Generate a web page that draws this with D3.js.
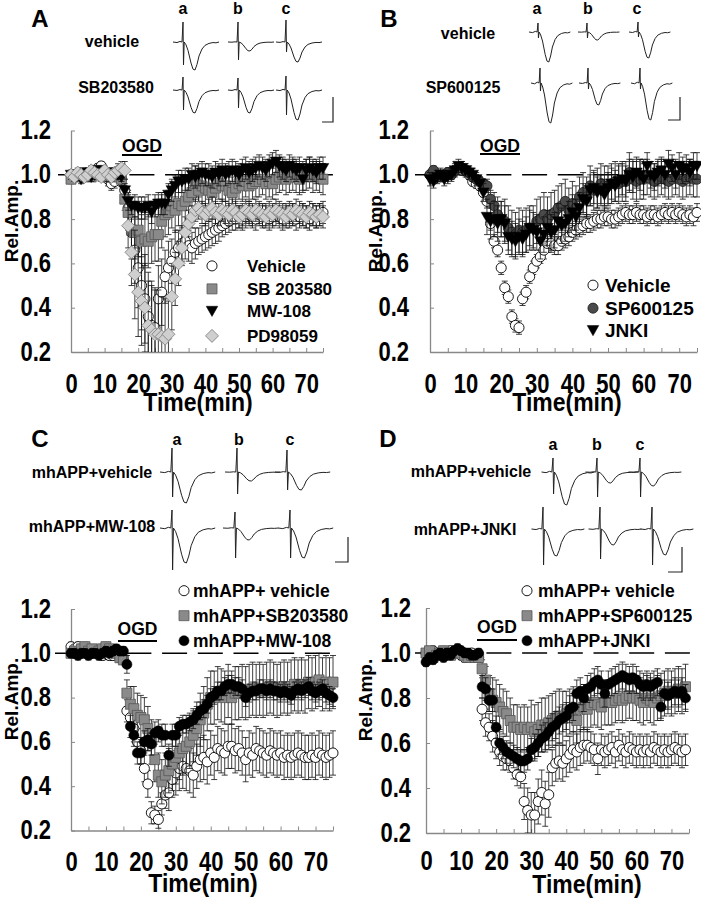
<!DOCTYPE html>
<html><head><meta charset="utf-8">
<script src="https://cdn.jsdelivr.net/npm/d3@7"></script>
<style>
body{margin:0;background:#fff}
svg{display:block}
text{font-family:"Liberation Sans",Arial,sans-serif;font-weight:bold;fill:#000}
</style>
</head><body>
<svg id="c" width="701" height="900"></svg>
<script>
// ---------------- DATA ----------------
const minutes = d3.range(0, 76);      // 0..75 min
const minutesD = d3.range(0, 75);     // 0..74 min
const xTickLabels = [0, 10, 20, 30, 40, 50, 60, 70];
const yTickLabels = [0.2, 0.4, 0.6, 0.8, 1.0, 1.2];

// Panel A
const A_vehicle = [1.00,0.99,1.00,0.99,1.00,1.01,1.00,1.02,1.03,1.04,1.00,0.98,0.96,0.97,0.99,0.98,
 0.93,0.85,0.74,0.66,0.58,0.50,0.44,0.36,0.32,0.31,0.44,0.47,0.54,0.58,0.61,
 0.65,0.67,0.69,0.70,0.68,0.67,0.69,0.70,0.71,0.72,0.73,0.74,0.75,0.76,0.77,
 0.78,0.79,0.80,0.80,0.81,0.80,0.81,0.82,0.81,0.80,0.82,0.81,0.82,0.80,0.81,
 0.82,0.81,0.80,0.82,0.81,0.82,0.80,0.81,0.82,0.81,0.80,0.82,0.81,0.82,0.83];
const A_vehicle_err = [.02,.02,.02,.02,.02,.02,.02,.02,.02,.02,.03,.03,.03,.03,.03,.03,
 .05,.08,.12,.15,.18,.20,.20,.20,.20,.18,.15,.15,.12,.12,.10,
 .10,.08,.08,.08,.07,.07,.07,.06,.06,.06,.06,.06,.06,.06,.05,
 .05,.05,.05,.05,.05,.05,.05,.05,.05,.05,.05,.05,.05,.05,.05,
 .05,.05,.05,.05,.05,.05,.05,.05,.05,.05,.05,.05,.05,.05,.05];
const A_SB = [0.98,1.00,0.99,1.00,1.01,1.00,0.99,1.01,1.02,1.00,1.00,0.99,1.01,1.00,0.99,0.98,
 0.89,0.83,0.75,0.74,0.75,0.70,0.71,0.70,0.72,0.73,0.73,0.79,0.82,0.83,0.86,
 0.84,0.87,0.86,0.88,0.90,0.92,0.96,0.93,0.95,0.94,0.93,0.92,0.94,0.96,0.95,
 0.95,0.93,0.92,0.94,0.96,0.95,0.97,0.95,0.96,0.97,0.97,0.98,0.96,0.97,0.96,
 0.98,0.99,1.00,0.98,0.99,1.00,0.99,0.98,0.99,1.00,1.01,0.99,1.00,0.99,0.98];
const A_SB_err = [.02,.02,.02,.02,.02,.02,.02,.02,.02,.02,.02,.02,.02,.02,.02,.03,
 .05,.08,.10,.12,.12,.12,.12,.12,.12,.12,.12,.12,.10,.10,.10,
 .10,.10,.10,.10,.10,.08,.08,.08,.08,.08,.08,.07,.07,.07,.07,
 .07,.07,.07,.07,.07,.07,.07,.07,.07,.07,.07,.07,.07,.07,.07,
 .07,.07,.07,.07,.07,.07,.07,.07,.07,.07,.07,.07,.07,.07,.07];
const A_MW = [1.00,0.99,1.00,0.98,1.00,1.01,0.99,1.00,1.02,1.01,1.00,0.99,1.00,1.01,1.00,0.99,
 0.93,0.88,0.86,0.86,0.85,0.85,0.85,0.86,0.83,0.86,0.87,0.87,0.87,0.91,0.93,
 0.95,0.97,0.97,0.98,0.98,1.00,0.99,1.00,1.01,1.00,1.00,0.99,1.01,1.00,1.02,
 1.00,1.01,1.02,1.01,1.00,1.02,1.03,1.01,1.02,1.03,1.04,1.03,1.02,1.04,1.05,
 1.06,1.04,1.03,1.02,1.04,1.03,1.02,1.03,0.98,1.02,1.03,1.02,1.01,1.03,1.03];
const A_MW_err = [.02,.02,.02,.02,.02,.02,.02,.02,.02,.02,.02,.02,.02,.02,.02,.02,
 .03,.04,.04,.05,.05,.05,.05,.05,.05,.05,.05,.05,.05,.05,.05,
 .05,.05,.05,.05,.05,.05,.05,.05,.05,.05,.05,.05,.05,.05,.05,
 .05,.05,.05,.05,.05,.05,.05,.05,.05,.05,.05,.05,.05,.05,.05,
 .05,.05,.05,.05,.05,.05,.05,.05,.05,.05,.05,.05,.05,.05,.05];
const A_PD = [1.00,0.99,1.01,1.00,0.99,1.00,1.02,1.01,1.00,0.99,1.02,1.00,0.99,1.01,1.02,1.03,
 1.02,0.77,0.65,0.55,0.47,0.43,0.40,0.32,0.30,0.28,0.28,0.27,0.26,0.28,0.45,
 0.53,0.60,0.67,0.74,0.78,0.81,0.84,0.85,0.83,0.82,0.84,0.85,0.83,0.82,0.84,
 0.83,0.82,0.84,0.83,0.81,0.82,0.84,0.83,0.82,0.84,0.83,0.82,0.81,0.83,0.82,
 0.84,0.83,0.82,0.81,0.83,0.82,0.84,0.83,0.82,0.81,0.83,0.82,0.81,0.82,0.81];
const A_PD_err = [.02,.02,.02,.02,.02,.02,.02,.02,.02,.02,.02,.02,.02,.02,.03,.03,
 .04,.10,.15,.20,.20,.20,.20,.20,.20,.20,.20,.18,.18,.15,.15,
 .12,.10,.08,.07,.06,.05,.05,.05,.05,.05,.05,.05,.05,.05,.05,
 .05,.05,.05,.05,.05,.05,.05,.05,.05,.05,.05,.05,.05,.05,.05,
 .05,.05,.05,.05,.05,.05,.05,.05,.05,.05,.05,.05,.05,.05,.05];

// Panel B
const B_vehicle = [1.00,0.98,0.99,0.99,1.00,1.01,1.00,1.02,1.03,1.02,1.02,1.00,0.97,0.96,0.95,0.92,
 0.88,0.78,0.70,0.66,0.58,0.49,0.45,0.36,0.32,0.31,0.44,0.47,0.54,0.58,0.61,
 0.63,0.66,0.69,0.69,0.68,0.68,0.70,0.71,0.72,0.74,0.75,0.76,0.77,0.78,0.78,
 0.79,0.80,0.80,0.81,0.81,0.80,0.80,0.81,0.82,0.83,0.82,0.82,0.83,0.82,0.82,
 0.81,0.82,0.82,0.81,0.82,0.83,0.82,0.83,0.82,0.83,0.82,0.81,0.82,0.81,0.83];
const B_vehicle_err = [.02,.02,.02,.02,.02,.02,.02,.02,.02,.02,.02,.02,.02,.02,.02,.02,
 .03,.03,.03,.03,.03,.03,.03,.03,.03,.03,.03,.03,.03,.03,.03,
 .03,.04,.04,.04,.04,.04,.04,.04,.04,.04,.04,.04,.04,.04,.04,
 .04,.04,.04,.04,.04,.04,.04,.04,.04,.04,.04,.04,.04,.04,.04,
 .04,.04,.04,.04,.04,.04,.04,.04,.04,.04,.04,.04,.04,.04,.04];
const B_SP = [1.00,1.02,0.99,1.00,0.99,1.01,1.00,1.02,1.03,1.03,1.02,1.01,0.99,0.98,0.97,0.96,
 0.95,0.89,0.86,0.82,0.80,0.79,0.76,0.74,0.73,0.75,0.74,0.75,0.76,0.76,0.79,
 0.80,0.82,0.80,0.82,0.83,0.85,0.86,0.88,0.84,0.87,0.85,0.90,0.92,0.90,0.95,
 0.93,0.94,0.96,0.95,0.95,0.96,0.97,0.96,0.97,0.97,1.01,0.98,0.97,0.98,0.98,
 0.99,0.98,0.97,0.98,0.99,0.98,0.97,0.98,0.99,0.98,0.97,0.98,0.99,0.98,0.98];
const B_SP_err = [.02,.02,.02,.02,.02,.02,.02,.02,.02,.02,.02,.02,.02,.02,.02,.02,
 .03,.04,.06,.08,.08,.10,.10,.10,.10,.10,.10,.10,.10,.10,.10,
 .10,.10,.10,.10,.10,.10,.10,.10,.10,.10,.10,.09,.09,.09,.09,
 .09,.09,.09,.09,.09,.09,.09,.09,.09,.09,.09,.09,.09,.09,.09,
 .08,.08,.08,.08,.08,.08,.08,.08,.08,.08,.08,.08,.08,.08,.08];
const B_JNKI = [0.98,0.97,0.99,1.00,0.98,0.99,1.00,1.02,1.04,1.03,1.02,1.01,1.00,0.98,0.96,0.92,
 0.81,0.79,0.80,0.78,0.80,0.78,0.72,0.71,0.70,0.72,0.71,0.73,0.76,0.75,0.74,
 0.70,0.73,0.76,0.74,0.75,0.79,0.77,0.78,0.80,0.83,0.81,0.85,0.89,0.88,0.93,
 0.94,0.92,0.93,0.91,0.94,0.96,0.95,0.97,0.98,0.97,1.00,0.99,1.01,1.00,0.98,
 1.04,1.00,0.99,1.01,1.02,1.00,1.05,1.03,1.00,1.04,1.02,1.03,1.01,1.04,1.04];
const B_JNKI_err = [.03,.03,.03,.03,.03,.03,.03,.03,.03,.03,.03,.03,.03,.03,.03,.04,
 .08,.08,.08,.08,.08,.08,.08,.08,.08,.08,.08,.08,.08,.08,.08,
 .08,.08,.08,.08,.08,.08,.08,.08,.08,.08,.08,.07,.07,.07,.07,
 .07,.07,.07,.07,.07,.07,.07,.07,.07,.07,.07,.07,.07,.07,.07,
 .06,.06,.06,.06,.06,.06,.06,.06,.06,.06,.06,.06,.06,.06,.06];

// Panel C
const C_vehicle = [1.03,1.02,1.03,1.02,1.01,1.00,1.00,1.01,1.00,0.99,1.00,0.99,0.99,1.00,0.98,0.97,
 0.74,0.71,0.66,0.60,0.56,0.48,0.41,0.28,0.27,0.25,0.32,0.36,0.37,0.43,0.46,
 0.48,0.49,0.48,0.47,0.45,0.49,0.52,0.53,0.51,0.55,0.53,0.57,0.56,0.55,0.58,
 0.58,0.56,0.57,0.55,0.52,0.55,0.54,0.57,0.56,0.55,0.54,0.56,0.55,0.54,0.55,
 0.53,0.54,0.53,0.54,0.55,0.54,0.53,0.53,0.54,0.53,0.55,0.54,0.53,0.54,0.55];
const C_vehicle_err = [.02,.02,.02,.02,.02,.02,.02,.02,.02,.02,.02,.02,.02,.02,.02,.02,
 .05,.05,.06,.06,.06,.06,.06,.05,.04,.04,.05,.06,.08,.08,.10,
 .10,.10,.10,.10,.10,.10,.10,.10,.10,.10,.10,.10,.10,.10,.10,
 .10,.10,.10,.10,.10,.10,.10,.10,.10,.10,.10,.10,.10,.10,.10,
 .10,.10,.10,.10,.10,.10,.10,.10,.10,.10,.10,.10,.10,.10,.10];
const C_SB = [1.00,1.01,1.00,1.02,1.03,1.01,1.02,1.00,1.01,1.02,1.03,1.02,1.01,1.00,0.98,0.97,
 0.82,0.77,0.75,0.72,0.71,0.70,0.66,0.60,0.52,0.45,0.42,0.45,0.47,0.50,0.53,
 0.55,0.57,0.58,0.60,0.63,0.66,0.70,0.73,0.77,0.80,0.80,0.82,0.81,0.80,0.83,
 0.80,0.82,0.82,0.83,0.82,0.83,0.84,0.83,0.84,0.83,0.84,0.85,0.84,0.83,0.84,
 0.85,0.84,0.85,0.86,0.85,0.86,0.85,0.87,0.86,0.87,0.88,0.86,0.87,0.86,0.87];
const C_SB_err = [.02,.02,.02,.02,.02,.02,.02,.02,.02,.02,.02,.02,.02,.02,.02,.02,
 .06,.08,.10,.10,.10,.10,.10,.10,.10,.10,.10,.10,.10,.12,.12,
 .12,.12,.12,.12,.12,.12,.12,.12,.12,.12,.12,.12,.12,.12,.12,
 .12,.12,.12,.12,.12,.12,.12,.12,.12,.12,.12,.12,.12,.12,.12,
 .12,.12,.12,.12,.12,.12,.12,.12,.12,.12,.12,.12,.12,.12,.12];
const C_MW = [1.00,1.00,0.99,1.00,1.00,0.99,1.00,1.00,0.99,1.00,1.01,1.00,1.01,1.02,1.01,1.01,
 0.95,0.67,0.63,0.55,0.55,0.60,0.61,0.59,0.64,0.65,0.63,0.63,0.54,0.63,0.63,
 0.67,0.68,0.68,0.69,0.70,0.72,0.74,0.75,0.77,0.80,0.81,0.83,0.83,0.85,0.86,
 0.86,0.85,0.85,0.84,0.80,0.82,0.83,0.83,0.84,0.84,0.83,0.84,0.83,0.83,0.82,
 0.83,0.82,0.81,0.83,0.84,0.83,0.84,0.85,0.83,0.82,0.83,0.84,0.82,0.81,0.80];
const C_MW_err = [.02,.02,.02,.02,.02,.02,.02,.02,.02,.02,.02,.02,.02,.02,.02,.02,
 .04,.05,.05,.05,.05,.05,.05,.05,.05,.05,.05,.05,.05,.05,.05,
 .04,.04,.04,.04,.04,.04,.04,.04,.04,.04,.04,.04,.04,.04,.04,
 .04,.04,.04,.04,.04,.04,.04,.04,.04,.04,.04,.04,.04,.04,.04,
 .04,.04,.04,.04,.04,.04,.04,.04,.04,.04,.04,.04,.04,.04,.04];

// Panel D (0..74 min)
const D_vehicle = [1.00,0.99,1.01,1.00,0.99,1.00,1.00,1.01,1.00,1.00,0.99,0.98,0.99,1.00,0.99,0.98,
 0.75,0.69,0.67,0.63,0.60,0.56,0.54,0.53,0.52,0.49,0.46,0.45,0.34,0.30,0.28,
 0.28,0.34,0.38,0.33,0.37,0.49,0.51,0.52,0.51,0.53,0.55,0.57,0.56,0.58,0.59,
 0.59,0.58,0.57,0.53,0.57,0.56,0.57,0.58,0.56,0.59,0.57,0.56,0.58,0.57,0.56,
 0.57,0.56,0.57,0.56,0.58,0.57,0.56,0.57,0.56,0.57,0.58,0.57,0.56,0.57];
const D_vehicle_err = [.02,.02,.02,.02,.02,.02,.02,.02,.02,.02,.02,.02,.02,.02,.02,.02,
 .05,.06,.06,.07,.07,.06,.06,.05,.05,.05,.05,.05,.08,.10,.10,
 .10,.10,.10,.10,.10,.08,.08,.08,.08,.08,.08,.08,.08,.08,.08,
 .07,.07,.07,.07,.07,.07,.07,.07,.07,.07,.07,.07,.07,.07,.07,
 .07,.07,.07,.07,.07,.07,.07,.07,.07,.07,.07,.07,.07,.07];
const D_SP = [1.00,1.01,0.98,0.99,1.00,1.01,1.00,0.99,1.00,1.01,1.00,0.99,0.98,0.99,0.98,0.98,
 0.93,0.88,0.82,0.79,0.78,0.76,0.74,0.73,0.70,0.67,0.67,0.66,0.67,0.66,0.67,
 0.65,0.66,0.68,0.68,0.69,0.70,0.71,0.72,0.71,0.73,0.74,0.75,0.70,0.75,0.76,
 0.75,0.77,0.78,0.77,0.76,0.78,0.78,0.78,0.79,0.80,0.79,0.80,0.81,0.80,0.80,
 0.79,0.78,0.80,0.79,0.78,0.80,0.81,0.82,0.83,0.82,0.83,0.84,0.83,0.85];
const D_SP_err = [.02,.02,.02,.02,.02,.02,.02,.02,.02,.02,.02,.02,.02,.02,.02,.02,
 .04,.06,.08,.10,.10,.10,.10,.10,.10,.10,.10,.10,.10,.10,.12,
 .12,.12,.12,.12,.12,.12,.12,.12,.12,.10,.10,.10,.10,.10,.10,
 .10,.10,.10,.10,.10,.10,.10,.10,.10,.10,.10,.10,.10,.10,.10,
 .10,.10,.10,.10,.10,.10,.10,.10,.10,.10,.10,.10,.10,.10];
const D_JNKI = [0.96,0.98,0.97,0.99,1.00,0.98,1.00,0.99,1.01,1.02,1.01,1.00,1.00,0.99,0.99,1.00,
 0.85,0.84,0.79,0.79,0.67,0.60,0.58,0.56,0.55,0.54,0.53,0.52,0.52,0.53,0.57,
 0.58,0.60,0.62,0.63,0.65,0.67,0.68,0.70,0.71,0.72,0.75,0.76,0.82,0.83,0.80,
 0.84,0.85,0.87,0.88,0.86,0.82,0.86,0.87,0.88,0.89,0.90,0.89,0.88,0.89,0.88,
 0.86,0.85,0.86,0.85,0.86,0.87,0.76,0.82,0.81,0.82,0.83,0.82,0.83,0.80];
const D_JNKI_err = [.02,.02,.02,.02,.02,.02,.02,.02,.02,.02,.02,.02,.02,.02,.02,.02,
 .05,.05,.05,.05,.05,.05,.05,.05,.05,.05,.05,.05,.05,.05,.05,
 .06,.06,.06,.06,.06,.06,.06,.06,.06,.06,.06,.06,.06,.06,.06,
 .06,.06,.06,.06,.06,.06,.06,.06,.06,.06,.06,.06,.06,.06,.06,
 .06,.06,.06,.06,.06,.06,.06,.06,.06,.06,.06,.06,.06,.06];

// Example fEPSP traces: [artifact up, artifact down, fEPSP depth] for a, b, c (row 1 then row 2)
const traceShape = [[-10,0,0],[-6,0,0.02],[-3,0,-0.02],[-1,0,0],[0,1,0],[0.5,-1,0],[1.2,0,0],[3,0,0.1],[5,0,0.3],[8,0,0.75],
 [10,0,0.97],[12,0,1],[14,0,0.8],[16,0,0.5],[19,0,0.25],[22,0,0.12],[26,0,0.05],[30,0,0.02],[33,0,0.03],[36,0,0]];
const A_traces = [[20,23,28],[20,18,9],[22,10,20],[13,20,23],[12,18,23],[14,25,30]];
const B_traces = [[9,6,30],[9,6,8],[10,5,26],[15,8,40],[15,6,22],[15,6,37]];
const C_traces = [[24,25,31],[24,22,9],[22,18,18],[18,42,35],[16,30,12],[18,30,30]];
const D_traces = [[14,22,33],[14,25,11],[14,25,14],[22,36,27],[22,30,16],[22,36,26]];

// ---------------- DRAWING ----------------
const svg = d3.select('#c');
const symCircle = d3.symbol().type(d3.symbolCircle).size(80)();
const symSquare = d3.symbol().type(d3.symbolSquare).size(100)();
const symTri = 'M-5.8,-4.6L5.8,-4.6L0,5.6Z';
const symDiamond = 'M0,-6.5L6.5,0L0,6.5L-6.5,0Z';

const styles = {
  open:   {path: symCircle, fill: '#fff', stroke: '#000', sw: 0.9},
  square: {path: symSquare, fill: '#8a8a8a', stroke: '#555', sw: 0.8},
  tri:    {path: symTri, fill: '#000', stroke: '#000', sw: 0.5},
  diam:   {path: symDiamond, fill: '#cfcfcf', stroke: '#777', sw: 0.8},
  dark:   {path: symCircle, fill: '#4a4a4a', stroke: '#1a1a1a', sw: 0.8},
  black:  {path: symCircle, fill: '#000', stroke: '#000', sw: 0.5}
};

const SY = 1.22;   // vertical stretch of the axis numbers / titles
const panels = [
 {id:'A', letter:[40,27], x0:71, x1:323, yBot:352, yTop:130.5, xBase:41, yPad:16,
  dash:[58,335], relAmp:[18,221], title:[198,411], ogd:[122,162,152,155],
  series:[['open',minutes,A_vehicle,A_vehicle_err],['square',minutes,A_SB,A_SB_err],['tri',minutes,A_MW,A_MW_err],['diam',minutes,A_PD,A_PD_err]],
  legend:{symX:212, textX:247, ys:[272,295,317,342], size:17, items:[['open','Vehicle'],['square','SB 203580'],['tri','MW-108'],['diam','PD98059']]},
  abc:{xs:[183,238,286], y:14}, rowLabels:[[112,47,'vehicle'],[116,93,'SB203580']],
  trace:{data:A_traces, cols:[[183,238,286],[183,238,286]], bases:[42,90], sc:1.0},
  bar:[333,97,122,11]},
 {id:'B', letter:[389,27], x0:430, x1:697, yBot:352, yTop:130.5, xBase:41, yPad:17,
  dash:[415,700], relAmp:[382,231], title:[567,411], ogd:[480,520,152,154],
  series:[['open',minutes,B_vehicle,B_vehicle_err],['dark',minutes,B_SP,B_SP_err],['tri',minutes,B_JNKI,B_JNKI_err]],
  legend:{symX:593, textX:605, ys:[292,315,337], size:19, items:[['open','Vehicle'],['dark','SP600125'],['tri','JNKI']]},
  abc:{xs:[537,588,637], y:14}, rowLabels:[[468,39,'vehicle'],[463,93,'SP600125']],
  trace:{data:B_traces, cols:[[538,587,638],[540,588,640]], bases:[32,83], sc:0.9},
  bar:[680,97,120,12]},
 {id:'C', letter:[40,447], x0:71, x1:333, yBot:830.5, yTop:609, xBase:41, yPad:16,
  dash:[55,335], relAmp:[18,699], title:[203,892], ogd:[118,157,635,641],
  series:[['open',minutes,C_vehicle,C_vehicle_err],['square',minutes,C_SB,C_SB_err],['black',minutes,C_MW,C_MW_err]],
  legend:{symX:184, textX:193, ys:[597,622,647], size:17.5, items:[['open','mhAPP+ vehicle'],['square','mhAPP+SB203580'],['black','mhAPP+MW-108']]},
  abc:{xs:[177,239,290], y:445}, rowLabels:[[92,478,'mhAPP+vehicle'],[92,532,'mhAPP+MW-108']],
  trace:{data:C_traces, cols:[[172,237,287],[172,235,290]], bases:[472,528], sc:1.2},
  bar:[348,537,562,13]},
 {id:'D', letter:[388,447], x0:426, x1:689, yBot:833, yTop:608, xBase:37, yPad:11,
  dash:[415,693], relAmp:[372,700], title:[587,893], ogd:[477,517,633,640],
  series:[['open',minutesD,D_vehicle,D_vehicle_err],['square',minutesD,D_SP,D_SP_err],['black',minutesD,D_JNKI,D_JNKI_err]],
  legend:{symX:527, textX:538, ys:[597,622,647], size:17.5, items:[['open','mhAPP+ vehicle'],['square','mhAPP+SP600125'],['black','mhAPP+JNKI']]},
  abc:{xs:[553,597,640], y:450}, rowLabels:[[471,477,'mhAPP+vehicle'],[465,535,'mhAPP+JNKI']],
  trace:{data:D_traces, cols:[[553,597,640],[543,600,652]], bases:[472,529], sc:1.15},
  bar:[682,547,572,14]}
];

panels.forEach((p) => {
  const x = d3.scaleLinear().domain([0, 75]).range([p.x0, p.x1]);
  const y = d3.scaleLinear().domain([0.2, 1.2]).range([p.yBot, p.yTop]);
  const g = svg.append('g');

  // panel letter
  g.append('text').attr('x', p.letter[0]).attr('y', p.letter[1]).attr('text-anchor','middle')
    .style('font-size','24px').text(p.id);

  // traces header
  ['a','b','c'].forEach((s,i) => g.append('text').attr('x', p.abc.xs[i]).attr('y', p.abc.y)
    .attr('text-anchor','middle').style('font-size','16px').text(s));
  p.rowLabels.forEach(r => g.append('text').attr('x', r[0]).attr('y', r[1]).attr('text-anchor','middle')
    .style('font-size','16px').text(r[2]));
  const tline = d3.line().curve(d3.curveLinear);
  p.trace.data.forEach((amp, k) => {
    const row = Math.floor(k / 3), col = k % 3;
    const cx = p.trace.cols[row][col], base = p.trace.bases[row];
    const pts = traceShape.map(s => [cx + s[0] * p.trace.sc,
       base - (s[1] > 0 ? amp[0] : (s[1] < 0 ? -amp[1] : 0)) + s[2] * amp[2]]);
    g.append('path').attr('d', tline(pts)).attr('fill','none').attr('stroke','#222').attr('stroke-width',1);
  });
  // scale bar
  const b = p.bar;
  g.append('path').attr('d', `M${b[0]-b[3]},${b[2]}H${b[0]}V${b[1]}`).attr('fill','none').attr('stroke','#222').attr('stroke-width',1.2);

  // dashed reference at 1.0
  g.append('line').attr('x1', p.dash[0]).attr('x2', p.dash[1]).attr('y1', y(1)).attr('y2', y(1))
    .attr('stroke','#000').attr('stroke-width',1.6).attr('stroke-dasharray','25,10.7');

  // axes
  const xMinor = d3.axisBottom(x).tickValues(d3.range(0, 80, 5)).tickSize(-4).tickSizeOuter(0).tickFormat('');
  const gx = g.append('g').attr('transform', `translate(0,${p.yBot})`).call(xMinor);
  gx.select('.domain').attr('stroke','#888').attr('stroke-width',1.3);
  gx.selectAll('.tick line').attr('stroke','#888').attr('stroke-width',1);
  const xLab = d3.axisBottom(x).tickValues(xTickLabels).tickSize(0).tickFormat(d3.format('d'));
  const gxl = g.append('g').attr('transform', `translate(0,${p.yBot})`).call(xLab);
  gxl.select('.domain').remove();
  gxl.selectAll('text').attr('font-family', null).attr('font-size', null)
    .attr('dy', 0).attr('y', p.xBase / SY).attr('transform', `scale(1,${SY})`)
    .style('font-size','22px').style('fill','#000');

  const yAx = d3.axisLeft(y).tickValues(yTickLabels).tickSize(-4).tickSizeOuter(0).tickPadding(p.yPad + 4).tickFormat(d3.format('.1f'));
  const gy = g.append('g').attr('transform', `translate(${p.x0},0)`).call(yAx);
  gy.select('.domain').attr('stroke','#888').attr('stroke-width',1.3);
  gy.selectAll('.tick line').attr('stroke','#888').attr('stroke-width',1);
  gy.selectAll('text').attr('font-family', null).attr('font-size', null)
    .attr('dy', '0.3em').attr('transform', `scale(1,${SY})`)
    .style('font-size','22px').style('fill','#000');
  g.selectAll('.tick text').attr('font-family', null);

  // axis titles
  g.append('text').attr('transform', `translate(${p.title[0]},${p.title[1]}) scale(1,1.1)`).attr('text-anchor','middle')
    .style('font-size','23px').text('Time(min)');
  g.append('text').attr('transform', `translate(${p.relAmp[0]},${p.relAmp[1]}) rotate(-90)`)
    .attr('text-anchor','middle').style('font-size','19px').text('Rel.Amp.');

  // OGD bar
  g.append('text').attr('x', (p.ogd[0]+p.ogd[1])/2).attr('y', p.ogd[2]).attr('text-anchor','middle')
    .style('font-size','17.5px').text('OGD');
  g.append('line').attr('x1', p.ogd[0]).attr('x2', p.ogd[1]).attr('y1', p.ogd[3]).attr('y2', p.ogd[3])
    .attr('stroke','#000').attr('stroke-width',2.2);

  // clip for data
  const clipId = 'clip' + p.id;
  svg.append('clipPath').attr('id', clipId).append('rect')
    .attr('x', p.x0 - 8).attr('y', p.yTop - 30).attr('width', p.x1 - p.x0 + 20).attr('height', p.yBot - p.yTop + 30);
  const gd = g.append('g').attr('clip-path', `url(#${clipId})`);

  p.series.forEach(([st, ts, vals, errs]) => {
    const s = styles[st];
    const pts = ts.map((t, i) => ({t, v: vals[i], e: errs[i]}));
    const ge = gd.append('g').attr('stroke','#111').attr('stroke-width',0.8);
    pts.forEach(d => {
      const xx = x(d.t), y1 = y(d.v - d.e), y2 = y(d.v + d.e);
      ge.append('path').attr('d', `M${xx},${y1}V${y2}M${xx-3},${y1}H${xx+3}M${xx-3},${y2}H${xx+3}`).attr('fill','none');
    });
    gd.append('g').selectAll('path').data(pts).join('path')
      .attr('d', s.path).attr('transform', d => `translate(${x(d.t)},${y(d.v)})`)
      .attr('fill', s.fill).attr('stroke', s.stroke).attr('stroke-width', s.sw);
  });

  // legend
  p.legend.items.forEach(([st, label], i) => {
    const s = styles[st];
    const yy = p.legend.ys[i];
    g.append('path').attr('d', s.path).attr('transform', `translate(${p.legend.symX},${yy - p.legend.size*0.36})`)
      .attr('fill', s.fill).attr('stroke', s.stroke).attr('stroke-width', s.sw);
    g.append('text').attr('x', p.legend.textX).attr('y', yy).style('font-size', p.legend.size + 'px').text(label);
  });
});
</script>
</body></html>
